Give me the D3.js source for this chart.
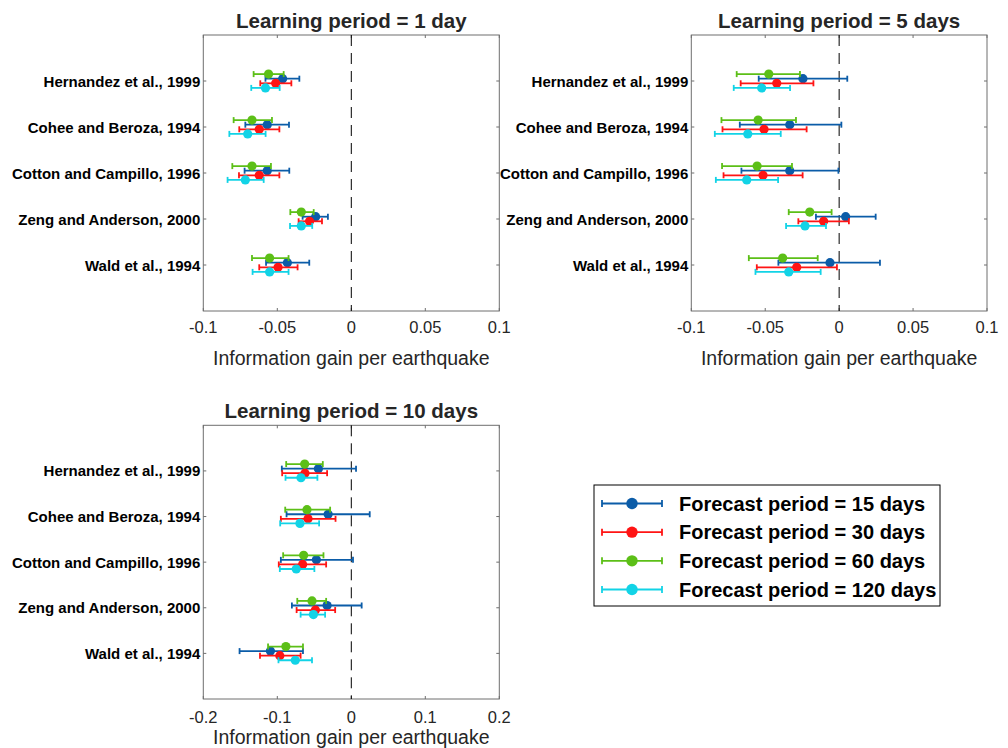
<!DOCTYPE html>
<html>
<head>
<meta charset="utf-8">
<script src="https://cdn.jsdelivr.net/npm/d3@7"></script>
<style>
  body { margin: 0; background: #fff; }
  svg { display: block; font-family: "Liberation Sans", Arial, Helvetica, sans-serif; }
</style>
</head>
<body>
<div id="chart"></div>
<script>
// study names, top to bottom
var studies = ["Hernandez et al., 1999", "Cohee and Beroza, 1994", "Cotton and Campillo, 1996",
               "Zeng and Anderson, 2000", "Wald et al., 1994"];

var seriesNames = ["Forecast period = 15 days", "Forecast period = 30 days",
                   "Forecast period = 60 days", "Forecast period = 120 days"];

// [estimate, lower, upper] per study -- learning period = 1 day
var lp1_f15  = [[-0.0464, -0.0580, -0.0351], [-0.0568, -0.0716, -0.0421], [-0.0568, -0.0721, -0.0419], [-0.0241, -0.0329, -0.0158], [-0.0432, -0.0576, -0.0284]];
var lp1_f30  = [[-0.0511, -0.0615, -0.0405], [-0.0622, -0.0757, -0.0486], [-0.0622, -0.0759, -0.0486], [-0.0282, -0.0356, -0.0198], [-0.0495, -0.0622, -0.0363]];
var lp1_f60  = [[-0.0559, -0.0660, -0.0457], [-0.0671, -0.0795, -0.0536], [-0.0671, -0.0804, -0.0543], [-0.0338, -0.0412, -0.0254], [-0.0552, -0.0671, -0.0424]];
var lp1_f120 = [[-0.0580, -0.0676, -0.0484], [-0.0700, -0.0824, -0.0579], [-0.0716, -0.0836, -0.0592], [-0.0338, -0.0414, -0.0264], [-0.0552, -0.0667, -0.0424]];

// learning period = 5 days
var lp5_f15  = [[-0.0245, -0.0544, 0.0055], [-0.0334, -0.0672, 0.0015], [-0.0334, -0.0661, -0.0005], [0.0044, -0.0157, 0.0247], [-0.0062, -0.0411, 0.0276]];
var lp5_f30  = [[-0.0422, -0.0666, -0.0174], [-0.0508, -0.0789, -0.0220], [-0.0515, -0.0782, -0.0247], [-0.0105, -0.0276, 0.0066], [-0.0287, -0.0557, -0.0015]];
var lp5_f60  = [[-0.0476, -0.0693, -0.0265], [-0.0548, -0.0796, -0.0292], [-0.0555, -0.0792, -0.0319], [-0.0199, -0.0341, -0.0051], [-0.0382, -0.0611, -0.0145]];
var lp5_f120 = [[-0.0524, -0.0713, -0.0332], [-0.0618, -0.0841, -0.0395], [-0.0625, -0.0834, -0.0413], [-0.0231, -0.0359, -0.0089], [-0.0341, -0.0566, -0.0125]];

// learning period = 10 days
var lp10_f15  = [[-0.0445, -0.0939, 0.0064], [-0.0313, -0.0875, 0.0249], [-0.0472, -0.0952, 0.0023], [-0.0327, -0.0803, 0.0140], [-0.1093, -0.1510, -0.0653]];
var lp10_f30  = [[-0.0626, -0.0934, -0.0327], [-0.0585, -0.0952, -0.0213], [-0.0658, -0.0980, -0.0340], [-0.0485, -0.0739, -0.0218], [-0.0966, -0.1234, -0.0685]];
var lp10_f60  = [[-0.0630, -0.0880, -0.0385], [-0.0599, -0.0893, -0.0286], [-0.0644, -0.0921, -0.0376], [-0.0531, -0.0730, -0.0340], [-0.0884, -0.1125, -0.0653]];
var lp10_f120 = [[-0.0680, -0.0889, -0.0458], [-0.0694, -0.0961, -0.0435], [-0.0744, -0.0966, -0.0499], [-0.0512, -0.0685, -0.0354], [-0.0757, -0.0984, -0.0531]];

var ticks1 = [-0.1, -0.05, 0, 0.05, 0.1];
var ticks10 = [-0.2, -0.1, 0, 0.1, 0.2];

var colors = ["#0b5ca8", "#ff1414", "#5cbf17", "#12d3e6"];
var offsets = [-0.05, 0.05, -0.15, 0.15]; // vertical nudge within a row

var panels = [
  {title: "Learning period = 1 day", series: [lp1_f15, lp1_f30, lp1_f60, lp1_f120], ticks: ticks1,
   left: 203.3, right: 499.3, top: 35, bottom: 311, tickGap: 16, labelGap: 47},
  {title: "Learning period = 5 days", series: [lp5_f15, lp5_f30, lp5_f60, lp5_f120], ticks: ticks1,
   left: 691.3, right: 987, top: 35, bottom: 311, tickGap: 16, labelGap: 47},
  {title: "Learning period = 10 days", series: [lp10_f15, lp10_f30, lp10_f60, lp10_f120], ticks: ticks10,
   left: 203.3, right: 499.3, top: 425.3, bottom: 699, tickGap: 18, labelGap: 38}
];

var svg = d3.select("#chart").append("svg")
  .attr("width", 1008)
  .attr("height", 748);

var axisColor = "#262626";

panels.forEach(function(p) {
  var x = d3.scaleLinear().domain(d3.extent(p.ticks)).range([p.left, p.right]);
  var y = d3.scaleLinear().domain([0, studies.length + 1]).range([p.top, p.bottom]);
  var g = svg.append("g");

  // box
  g.append("rect")
    .attr("x", p.left).attr("y", p.top)
    .attr("width", p.right - p.left).attr("height", p.bottom - p.top)
    .attr("fill", "none").attr("stroke", "#6e6e6e").attr("stroke-width", 1);

  // x ticks (inside, bottom and top)
  p.ticks.forEach(function(t) {
    g.append("line").attr("x1", x(t)).attr("x2", x(t))
      .attr("y1", p.bottom).attr("y2", p.bottom - 3).attr("stroke", "#6e6e6e");
    g.append("line").attr("x1", x(t)).attr("x2", x(t))
      .attr("y1", p.top).attr("y2", p.top + 3).attr("stroke", "#6e6e6e");
    g.append("text")
      .attr("x", x(t)).attr("y", p.bottom + p.tickGap)
      .attr("text-anchor", "middle").attr("dominant-baseline", "central")
      .attr("font-size", 16.5).attr("fill", axisColor)
      .text(t);
  });

  // y ticks + study labels
  studies.forEach(function(s, i) {
    var yy = y(i + 1);
    g.append("line").attr("x1", p.left).attr("x2", p.left + 3)
      .attr("y1", yy).attr("y2", yy).attr("stroke", "#6e6e6e");
    g.append("line").attr("x1", p.right).attr("x2", p.right - 3)
      .attr("y1", yy).attr("y2", yy).attr("stroke", "#6e6e6e");
    g.append("text")
      .attr("x", p.left - 3).attr("y", yy)
      .attr("text-anchor", "end").attr("dominant-baseline", "central")
      .attr("font-size", 15).attr("font-weight", "bold").attr("fill", "#000")
      .text(s);
  });

  // zero line
  g.append("line")
    .attr("x1", x(0)).attr("x2", x(0))
    .attr("y1", p.top).attr("y2", p.bottom)
    .attr("stroke", "#000").attr("stroke-width", 1)
    .attr("stroke-dasharray", "11,7");

  // error bars
  p.series.forEach(function(data, k) {
    var sg = g.append("g").attr("stroke", colors[k]).attr("fill", colors[k]);
    data.forEach(function(d, i) {
      var yy = y(i + 1 + offsets[k]);
      sg.append("line").attr("x1", x(d[1])).attr("x2", x(d[2]))
        .attr("y1", yy).attr("y2", yy).attr("stroke-width", 1.8);
      sg.append("line").attr("x1", x(d[1])).attr("x2", x(d[1]))
        .attr("y1", yy - 3).attr("y2", yy + 3).attr("stroke-width", 1.8);
      sg.append("line").attr("x1", x(d[2])).attr("x2", x(d[2]))
        .attr("y1", yy - 3).attr("y2", yy + 3).attr("stroke-width", 1.8);
      sg.append("circle").attr("cx", x(d[0])).attr("cy", yy).attr("r", 4.6).attr("stroke", "none");
    });
  });

  // title
  g.append("text")
    .attr("x", (p.left + p.right) / 2).attr("y", p.top - 15)
    .attr("text-anchor", "middle").attr("dominant-baseline", "central")
    .attr("font-size", 20.5).attr("font-weight", "bold").attr("fill", axisColor)
    .text(p.title);

  // axis label
  g.append("text")
    .attr("x", (p.left + p.right) / 2).attr("y", p.bottom + p.labelGap)
    .attr("text-anchor", "middle").attr("dominant-baseline", "central")
    .attr("font-size", 19.5).attr("fill", axisColor)
    .text("Information gain per earthquake");
});

// legend
var leg = svg.append("g");
leg.append("rect")
  .attr("x", 594).attr("y", 485).attr("width", 346).attr("height", 121)
  .attr("fill", "#fff").attr("stroke", "#000").attr("stroke-width", 1);

var legY = d3.scalePoint().domain(seriesNames).range([503.5, 589.5]);
seriesNames.forEach(function(name, k) {
  var yy = legY(name);
  var lg = leg.append("g").attr("stroke", colors[k]).attr("fill", colors[k]);
  lg.append("line").attr("x1", 602).attr("x2", 662).attr("y1", yy).attr("y2", yy).attr("stroke-width", 1.8);
  lg.append("line").attr("x1", 602).attr("x2", 602).attr("y1", yy - 3.5).attr("y2", yy + 3.5).attr("stroke-width", 1.8);
  lg.append("line").attr("x1", 662).attr("x2", 662).attr("y1", yy - 3.5).attr("y2", yy + 3.5).attr("stroke-width", 1.8);
  lg.append("circle").attr("cx", 632).attr("cy", yy).attr("r", 5.7).attr("stroke", "none");
  leg.append("text")
    .attr("x", 679).attr("y", yy)
    .attr("dominant-baseline", "central")
    .attr("font-size", 20).attr("font-weight", "bold").attr("fill", "#000")
    .text(name);
});
</script>
</body>
</html>
